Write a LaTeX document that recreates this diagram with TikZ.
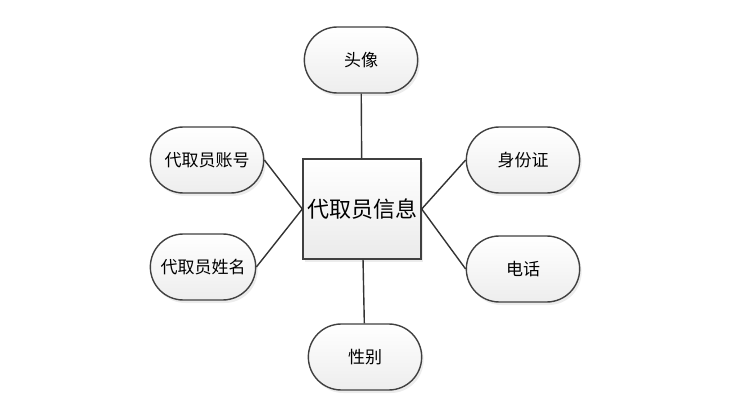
\documentclass[tikz,border=0pt]{standalone}
\usepackage{fontspec}
\setmainfont{Noto Sans CJK SC}
\usepackage{tikz}
\usetikzlibrary{shapes,arrows,positioning,shadows}

\begin{document}
\begin{tikzpicture}[
    x=1pt,y=1pt,
    node distance=149pt,
    entity/.style={rectangle,draw=black!75,line width=1.4pt,minimum width=118pt,minimum height=100pt,
        align=center,top color=white,bottom color=black!8,font=\fontsize{22}{26}\selectfont,
        drop shadow={opacity=0.15,shadow xshift=2pt,shadow yshift=-3pt}},
    attr/.style={rounded rectangle,draw=black!75,line width=1.4pt,minimum width=120pt,minimum height=66pt,
        align=center,top color=white,bottom color=black!7,font=\fontsize{17}{20}\selectfont,
        drop shadow={opacity=0.15,shadow xshift=2pt,shadow yshift=-3pt}},
    link/.style={draw=black!80,line width=1.4pt}
]
    \useasboundingbox (0,0) rectangle (744,405);

    \node[entity] (info) at (362,196) {代取员信息};

    \node[attr,above of=info,xshift=-1pt] (avatar) {头像};
    \node[attr,below of=info,xshift=3pt,yshift=1pt] (gender) {性别};
    \node[attr,left of=info,xshift=-6pt,yshift=49pt] (account) {代取员账号};
    \node[attr,left of=info,xshift=-10pt,yshift=-58pt,minimum width=112pt] (name) {代取员姓名};
    \node[attr,right of=info,xshift=12pt,yshift=49pt] (idcard) {身份证};
    \node[attr,right of=info,xshift=12pt,yshift=-60pt] (phone) {电话};

    \draw[link] (avatar) -- (info);
    \draw[link] (gender) -- (info);
    \draw[link] (account.east) -- (info.west);
    \draw[link] (name.east) -- (info.west);
    \draw[link] (idcard.west) -- (info.east);
    \draw[link] (phone.west) -- (info.east);
\end{tikzpicture}
\end{document}
